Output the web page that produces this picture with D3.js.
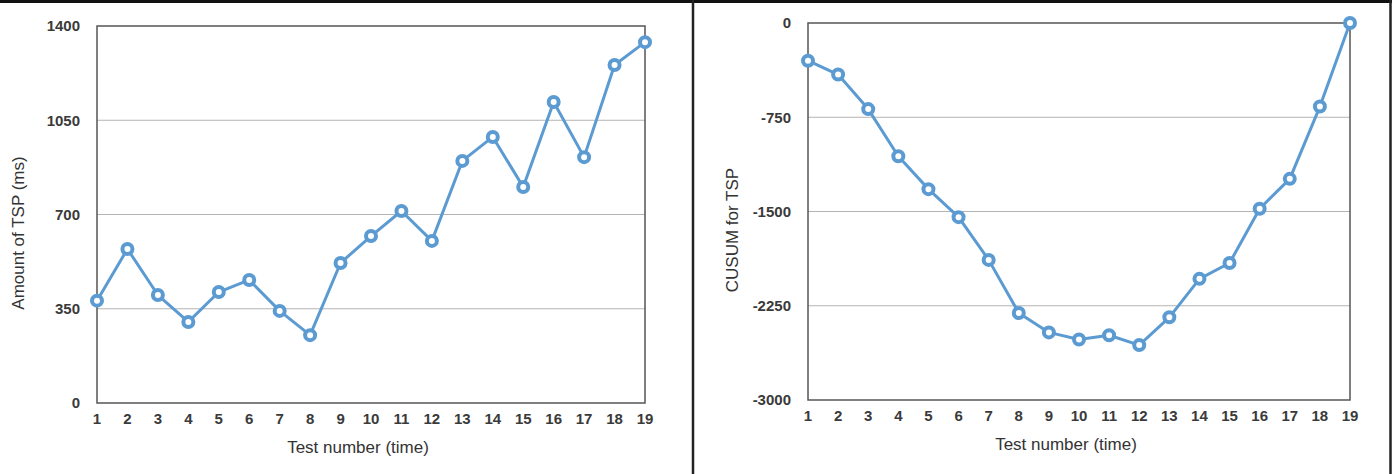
<!DOCTYPE html>
<html>
<head>
<meta charset="utf-8">
<script src="https://cdn.jsdelivr.net/npm/d3@7"></script>
<style>
  body { margin: 0; background: #fff; }
  svg { display: block; font-family: "Liberation Sans", Arial, sans-serif; }
  .tick-lbl { font-size: 15px; font-weight: bold; fill: #3a3a3a; }
  .axis-title { font-size: 17px; fill: #333; }
</style>
</head>
<body>
<div id="chart"></div>
<script>
// data
const tests = d3.range(1, 20);
const tspAmount = [380, 572, 401, 301, 412, 457, 342, 252, 520, 620, 713, 602, 899, 988, 802, 1118, 913, 1255, 1340];
const cusum = [-300, -410, -685, -1060, -1322, -1545, -1885, -2308, -2462, -2518, -2485, -2563, -2342, -2036, -1910, -1478, -1240, -665, 0];
const leftTicks = [0, 350, 700, 1050, 1400];
const rightTicks = [-3000, -2250, -1500, -750, 0];

const W = 1392, H = 474;
const blue = "#5b9bd2";

const svg = d3.select("#chart").append("svg")
  .attr("width", W).attr("height", H);

// frame lines
svg.append("line").attr("x1", 0).attr("x2", W).attr("y1", 1.5).attr("y2", 1.5)
  .attr("stroke", "#111").attr("stroke-width", 3);
svg.append("line").attr("x1", 693).attr("x2", 693).attr("y1", 0).attr("y2", H)
  .attr("stroke", "#222").attr("stroke-width", 2.5);
svg.append("line").attr("x1", 1390.5).attr("x2", 1390.5).attr("y1", 0).attr("y2", H)
  .attr("stroke", "#222").attr("stroke-width", 2.5);

function panel(cfg) {
  const x = d3.scaleLinear().domain([1, 19]).range([cfg.left, cfg.right]);
  const y = d3.scaleLinear().domain(cfg.domain).range([cfg.bottom, cfg.top]);
  const g = svg.append("g");

  // gridlines
  g.selectAll(".grid")
    .data(cfg.ticks.filter(t => t !== cfg.domain[0] && t !== cfg.domain[1]))
    .enter().append("line")
    .attr("x1", cfg.left).attr("x2", cfg.right)
    .attr("y1", d => y(d)).attr("y2", d => y(d))
    .attr("stroke", "#b4b4b4").attr("stroke-width", 1);

  // plot frame
  g.append("rect")
    .attr("x", cfg.left).attr("y", cfg.top)
    .attr("width", cfg.right - cfg.left).attr("height", cfg.bottom - cfg.top)
    .attr("fill", "none").attr("stroke", "#555").attr("stroke-width", 1.5);

  // y tick labels
  g.selectAll(".ytl").data(cfg.ticks).enter().append("text")
    .attr("class", "tick-lbl")
    .attr("x", cfg.left - 17)
    .attr("y", d => y(d))
    .attr("dy", "0.35em")
    .attr("text-anchor", "end")
    .text(d => d);

  // x tick labels
  g.selectAll(".xtl").data(tests).enter().append("text")
    .attr("class", "tick-lbl")
    .attr("x", d => x(d))
    .attr("y", cfg.bottom + 16)
    .attr("dy", "0.35em")
    .attr("text-anchor", "middle")
    .text(d => d);

  // axis titles
  g.append("text").attr("class", "axis-title")
    .attr("x", (cfg.left + cfg.right) / 2 - 13)
    .attr("y", cfg.bottom + 44)
    .attr("dy", "0.35em")
    .attr("text-anchor", "middle")
    .text("Test number (time)");

  g.append("text").attr("class", "axis-title")
    .attr("transform", `translate(${cfg.ytitleX}, ${cfg.ytitleY}) rotate(-90)`)
    .attr("dy", "0.35em")
    .attr("text-anchor", "middle")
    .text(cfg.ytitle);

  // line + markers
  const line = d3.line().x((d, i) => x(tests[i])).y(d => y(d));
  g.append("path").datum(cfg.values)
    .attr("d", line)
    .attr("fill", "none").attr("stroke", blue)
    .attr("stroke-width", 3).attr("stroke-linejoin", "round");

  g.selectAll(".dot").data(cfg.values).enter().append("circle")
    .attr("cx", (d, i) => x(tests[i]))
    .attr("cy", d => y(d))
    .attr("r", 5)
    .attr("fill", "#fff")
    .attr("stroke", blue)
    .attr("stroke-width", 4);
}

panel({
  left: 97, right: 645, top: 26, bottom: 403,
  domain: [0, 1400], ticks: leftTicks, values: tspAmount,
  ytitle: "Amount of TSP (ms)", ytitleX: 18, ytitleY: 233
});

panel({
  left: 808, right: 1350, top: 23, bottom: 400,
  domain: [-3000, 0], ticks: rightTicks, values: cusum,
  ytitle: "CUSUM for TSP", ytitleX: 732, ytitleY: 230
});
</script>
</body>
</html>
